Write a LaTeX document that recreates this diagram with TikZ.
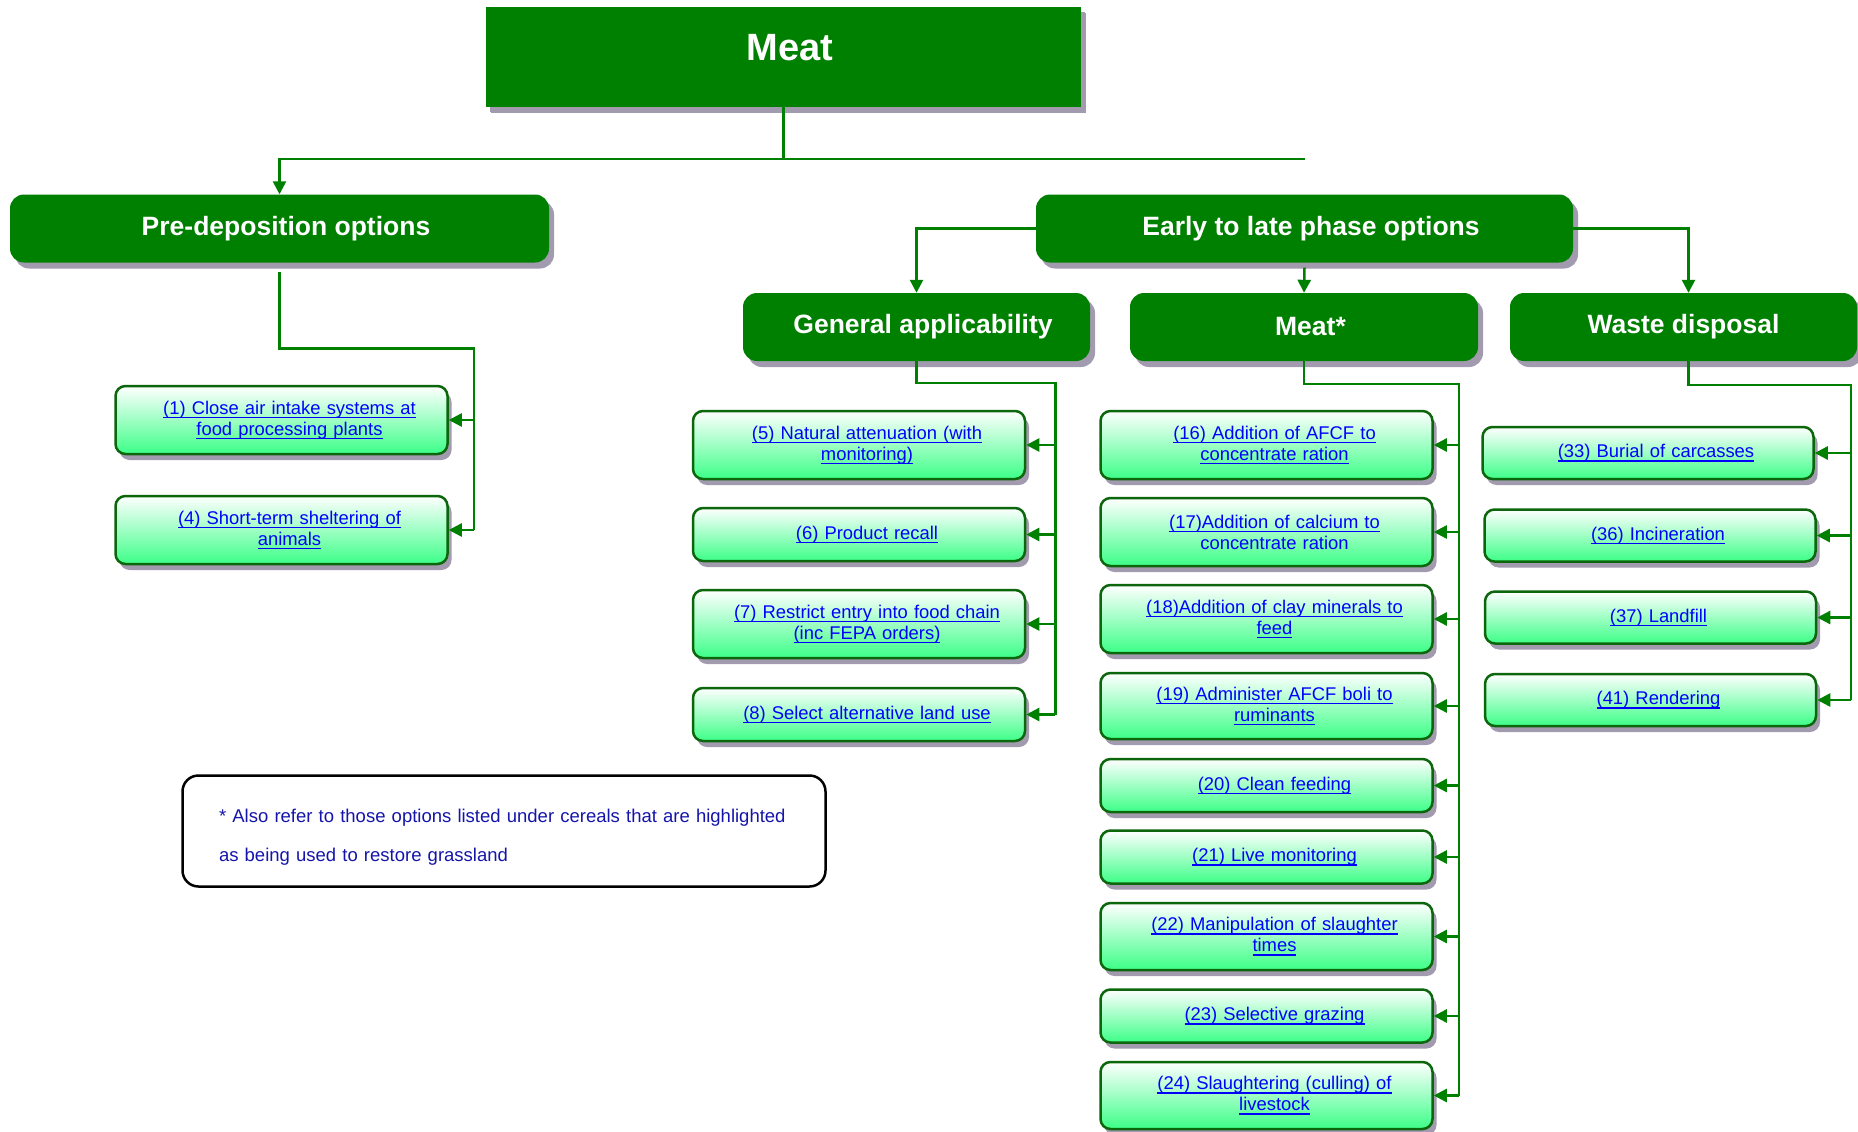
\documentclass[tikz,border=0pt]{standalone}
\usepackage{fontspec}
\setmainfont{Liberation Sans}
\usetikzlibrary{arrows.meta,shadows}
\definecolor{hdgreen}{RGB}{0,128,0}
\definecolor{boxedge}{RGB}{12,102,12}
\definecolor{boxgreen}{RGB}{60,255,135}
\definecolor{shade}{RGB}{162,154,174}
\definecolor{linkblue}{RGB}{0,0,255}
\definecolor{notenavy}{RGB}{20,20,170}
\newcommand{\uln}[1]{\leavevmode\sbox0{#1}\rlap{\usebox0}\rule[-4.3pt]{\wd0}{1.4pt}}

\begin{document}
\begin{tikzpicture}[x=1pt,y=-1pt,
    head/.style={fill=hdgreen,text=white,font=\fontsize{26.5}{30}\selectfont\bfseries,
      rounded corners=14pt,minimum height=68pt,
      drop shadow={shadow xshift=5pt,shadow yshift=-6pt,fill=shade,opacity=1}},
    hshift/.style={execute at begin node={\hspace*{13pt}}},
    opt/.style={draw=boxedge,line width=2.5pt,rounded corners=10pt,top color=white,
      bottom color=boxgreen,minimum width=332pt,minimum height=53pt,text width=320pt,
      align=center,inner sep=0pt,text=linkblue,font=\fontsize{18.4}{21}\selectfont,
      execute at begin node={\leftskip=16pt plus 1fil\rightskip=0pt plus 1fil},
      drop shadow={shadow xshift=4pt,shadow yshift=-6pt,fill=shade,opacity=1}},
    link/.style={draw=hdgreen,line width=2.5pt},
    arr/.style={-{Triangle[length=13pt,width=13pt]}}]
  \useasboundingbox (0,0) rectangle (1858,1132);

  % headings
  \node[head,hshift,sharp corners,minimum width=595pt,minimum height=100pt,text depth=20pt,
    font=\fontsize{38}{44}\selectfont\bfseries,
    drop shadow={shadow xshift=4pt,shadow yshift=-5pt,fill=shade,opacity=1}] (meat) at (783.5,57) {Meat};
  \node[head,hshift,minimum width=539pt] (pre) at (279.5,228.5) {Pre-deposition options};
  \node[head,hshift,minimum width=537pt] (early) at (1304.5,228.5) {Early to late phase options};
  \node[head,hshift,minimum width=347pt] (gen) at (916.5,327) {General applicability};
  \node[head,hshift,minimum width=348pt] (meatx) at (1304,327) {Meat*};
  \node[head,minimum width=347pt] (waste) at (1683.5,327) {Waste disposal};

  % pre-deposition
  \node[opt,minimum height=68pt] (o1) at (281.5,420) {\uln{(1) Close air intake systems at}\\\uln{food processing plants}};
  \node[opt,minimum height=68pt] (o4) at (281.5,530) {\uln{(4) Short-term sheltering of}\\\uln{animals}};

  % general applicability
  \node[opt,minimum height=68pt] (o5) at (859,445) {\uln{(5) Natural attenuation (with}\\\uln{monitoring)}};
  \node[opt] (o6) at (859,534.5) {\uln{(6) Product recall}};
  \node[opt,minimum height=68pt] (o7) at (859,624) {\uln{(7) Restrict entry into food chain}\\\uln{(inc FEPA orders)}};
  \node[opt] (o8) at (859,714.5) {\uln{(8) Select alternative land use}};

  % meat*
  \node[opt,minimum height=68pt] (o16) at (1266.5,445) {\uln{(16) Addition of AFCF to}\\\uln{concentrate ration}};
  \node[opt,minimum height=68pt] (o17) at (1266.5,532) {\uln{(17)Addition of calcium to}\\concentrate ration};
  \node[opt,minimum height=68pt] (o18) at (1266.5,619) {\uln{(18)Addition of clay minerals to}\\\uln{feed}};
  \node[opt,minimum height=66pt] (o19) at (1266.5,706) {\uln{(19) Administer AFCF boli to}\\\uln{ruminants}};
  \node[opt] (o20) at (1266.5,785.5) {\uln{(20) Clean feeding}};
  \node[opt] (o21) at (1266.5,857) {\uln{(21) Live monitoring}};
  \node[opt,minimum height=67pt] (o22) at (1266.5,936.5) {\uln{(22) Manipulation of slaughter}\\\uln{times}};
  \node[opt] (o23) at (1266.5,1016) {\uln{(23) Selective grazing}};
  \node[opt,minimum height=67pt] (o24) at (1266.5,1095.5) {\uln{(24) Slaughtering (culling) of}\\\uln{livestock}};

  % waste disposal
  \node[opt,minimum width=331pt,minimum height=52pt] (o33) at (1648,453) {\uln{(33) Burial of carcasses}};
  \node[opt,minimum width=331pt,minimum height=52pt] (o36) at (1650,535.5) {\uln{(36) Incineration}};
  \node[opt,minimum width=331pt,minimum height=52pt] (o37) at (1650.5,617.5) {\uln{(37) Landfill}};
  \node[opt,minimum width=331pt,minimum height=52pt] (o41) at (1650.5,700) {\uln{(41) Rendering}};

  % note
  \node[draw=black,line width=2.5pt,rounded corners=16pt,minimum width=643pt,minimum height=111pt,
    text width=570pt,align=left,inner xsep=0pt,text height=26pt,text=notenavy,
    font=\fontsize{18.5}{39}\selectfont] (note) at (504,831)
    {* Also refer to those options listed under cereals that are highlighted\\as being used to restore grassland};

  % top level
  \draw[link] (meat.south) -- ++(0,52) coordinate (mj);
  \draw[link,arr] (mj) -| (pre.north);
  \draw[link] (mj) -- (mj -| early.north);
  \draw[link,arr] (early.west) -| (gen.north);
  \draw[link,arr] ([yshift=-5pt]early.south) -- (meatx.north);
  \draw[link,arr] (early.east) -| ([xshift=5pt]waste.north);

  % option buses
  \coordinate (pbus) at ([xshift=25pt]o1.east);
  \draw[link] ([yshift=-9pt]pre.south) -- ++(0,77) -| (pbus |- o4.east);
  \foreach \n in {o1,o4} \draw[link,arr] (pbus |- \n.east) -- (\n.east);

  \coordinate (gbus) at ([xshift=29pt]o5.east);
  \draw[link] (gen.south) -- ++(0,22) -| (gbus |- o8.east);
  \foreach \n in {o5,o6,o7,o8} \draw[link,arr] (gbus |- \n.east) -- (\n.east);

  \coordinate (mbus) at ([xshift=25pt]o16.east);
  \draw[link] (meatx.south) -- ++(0,23) -| (mbus |- o24.east);
  \foreach \n in {o16,o17,o18,o19,o20,o21,o22,o23,o24} \draw[link,arr] (mbus |- \n.east) -- (\n.east);

  \coordinate (wbus) at ([xshift=34pt]o36.east);
  \draw[link] ([xshift=5pt]waste.south) -- ++(0,24) -| (wbus |- o41.east);
  \foreach \n in {o33,o36,o37,o41} \draw[link,arr] (wbus |- \n.east) -- (\n.east);
\end{tikzpicture}
\end{document}
